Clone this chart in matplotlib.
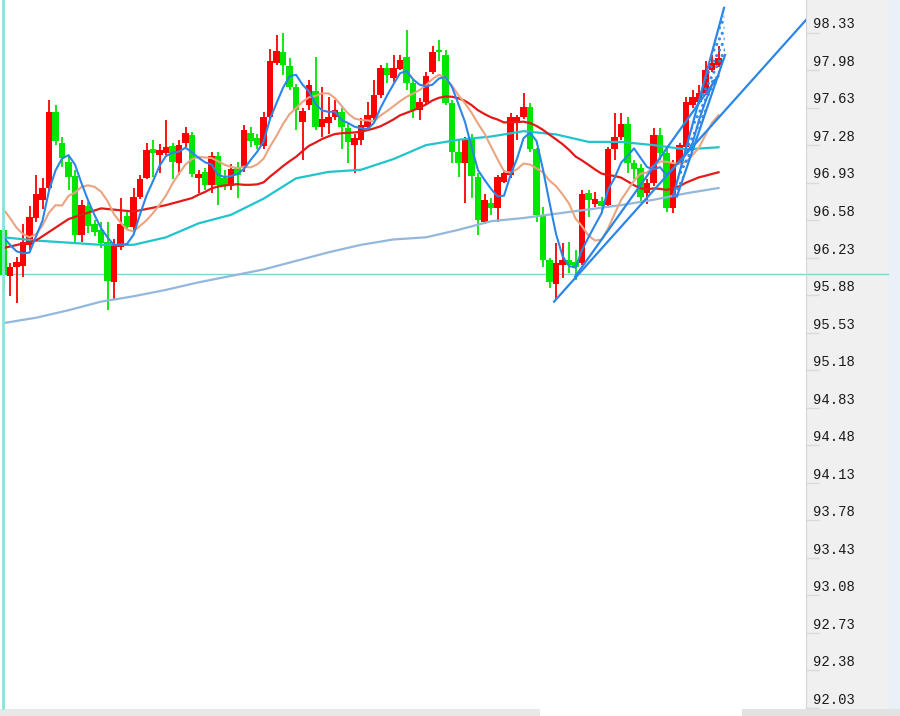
import numpy as np
import pandas as pd
import matplotlib
matplotlib.use("Agg")
import matplotlib.pyplot as plt
from matplotlib.patches import Rectangle, Polygon
from matplotlib.lines import Line2D

# ---------------- data ----------------
open_ = [96.40, 95.97, 96.05, 96.06, 96.26, 96.51, 96.68, 96.79, 97.50, 97.21,
         97.03, 96.90, 96.35, 96.62, 96.45, 96.40, 96.29, 95.91, 96.24, 96.53,
         96.43, 96.71, 96.88, 97.15, 97.10, 97.12, 97.18, 97.02, 97.21, 97.28,
         96.88, 96.94, 96.82, 97.09, 96.88, 96.81, 96.98, 96.98, 97.30, 97.26,
         97.18, 97.45, 97.96, 98.06, 97.93, 97.73, 97.41, 97.56, 97.69, 97.36,
         97.40, 97.45, 97.50, 97.35, 97.19, 97.24, 97.36, 97.44, 97.66, 97.91,
         97.82, 97.90, 98.01, 97.77, 97.52, 97.59, 97.87, 98.07, 98.03, 97.58,
         97.13, 97.02, 97.26, 96.89, 96.47, 96.65, 96.60, 96.85, 96.91, 97.41,
         97.45, 97.55, 97.15, 96.54, 96.12, 95.89, 96.07, 96.12, 96.10, 96.09,
         96.74, 96.64, 96.67, 96.63, 97.15, 97.27, 97.39, 97.02, 96.98, 96.74,
         96.84, 97.28, 97.12, 96.60, 97.02, 97.17, 97.56, 97.59, 97.68, 97.89,
         97.94]
high = [96.44, 96.09, 96.15, 96.45, 96.62, 96.91, 96.88, 97.61, 97.56, 97.27,
        97.10, 96.96, 96.68, 96.66, 96.49, 96.47, 96.47, 96.31, 96.70, 96.57,
        96.79, 96.91, 97.21, 97.24, 97.20, 97.42, 97.21, 97.24, 97.36, 97.31,
        96.96, 96.98, 97.13, 97.13, 96.96, 97.01, 97.03, 97.38, 97.36, 97.29,
        97.50, 98.09, 98.22, 98.24, 98.00, 97.76, 97.54, 97.80, 98.01, 97.73,
        97.64, 97.61, 97.54, 97.39, 97.29, 97.44, 97.59, 97.80, 97.94, 97.96,
        98.03, 98.03, 98.26, 97.80, 97.63, 97.87, 98.11, 98.17, 98.08, 97.61,
        97.24, 97.27, 97.29, 96.93, 96.73, 96.70, 96.91, 96.96, 97.49, 97.47,
        97.68, 97.58, 97.16, 96.61, 96.14, 96.28, 96.28, 96.29, 96.21, 96.77,
        96.77, 96.75, 96.71, 97.17, 97.49, 97.49, 97.45, 97.05, 97.01, 96.87,
        97.35, 97.35, 97.15, 97.05, 97.21, 97.64, 97.70, 97.75, 97.97, 98.03,
        98.11]
low = [95.84, 95.78, 95.72, 95.96, 96.21, 96.47, 96.59, 96.77, 97.19, 96.99,
       96.77, 96.27, 96.29, 96.37, 96.34, 96.23, 95.65, 95.75, 96.21, 96.40,
       96.40, 96.69, 96.87, 96.89, 96.93, 97.10, 96.87, 96.91, 97.17, 96.89,
       96.74, 96.77, 96.74, 96.63, 96.77, 96.77, 96.70, 96.94, 97.17, 97.15,
       97.15, 97.42, 97.94, 97.84, 97.70, 97.33, 97.05, 97.52, 97.33, 97.27,
       97.29, 97.42, 97.15, 97.02, 96.93, 97.19, 97.33, 97.42, 97.63, 97.77,
       97.78, 97.89, 97.70, 97.44, 97.42, 97.57, 97.85, 97.97, 97.56, 97.02,
       96.89, 96.65, 96.70, 96.35, 96.45, 96.54, 96.47, 96.84, 96.88, 97.24,
       97.43, 97.13, 96.47, 96.05, 95.86, 95.75, 95.95, 96.00, 95.93, 96.07,
       96.52, 96.61, 96.56, 96.60, 97.05, 97.24, 96.93, 96.87, 96.65, 96.64,
       96.81, 97.05, 96.57, 96.56, 97.01, 97.15, 97.54, 97.57, 97.66, 97.87,
       97.92]
close = [95.98, 96.05, 96.10, 96.29, 96.52, 96.73, 96.79, 97.50, 97.23, 97.07,
         96.89, 96.35, 96.63, 96.44, 96.38, 96.28, 95.92, 96.26, 96.45, 96.43,
         96.71, 96.87, 97.14, 97.12, 97.14, 97.17, 97.03, 97.19, 97.30, 96.92,
         96.92, 96.82, 97.09, 96.82, 96.81, 96.97, 96.91, 97.33, 97.23, 97.19,
         97.45, 97.97, 98.07, 97.94, 97.73, 97.52, 97.51, 97.75, 97.36, 97.43,
         97.45, 97.52, 97.36, 97.22, 97.26, 97.38, 97.47, 97.66, 97.91, 97.84,
         97.91, 97.98, 97.77, 97.52, 97.59, 97.83, 98.06, 98.06, 97.58, 97.13,
         97.02, 97.24, 96.90, 96.49, 96.68, 96.60, 96.89, 96.93, 97.45, 97.45,
         97.55, 97.15, 96.54, 96.12, 95.91, 96.09, 96.12, 96.07, 96.05, 96.73,
         96.68, 96.69, 96.62, 97.15, 97.27, 97.39, 97.02, 96.97, 96.71, 96.84,
         97.28, 97.12, 96.60, 97.02, 97.19, 97.59, 97.64, 97.68, 97.89, 97.96,
         98.00]

# moving averages before enough candles are on screen (read values)
ma5_lead = [96.33, 96.26, 96.20, 96.18]
ma10_lead = [96.59, 96.51, 96.42, 96.36, 96.33, 96.36, 96.44, 96.56, 96.63]
ma30_lead_idx = [0, 5, 10, 15, 20, 25]
ma30_lead = [96.23, 96.30, 96.50, 96.60, 96.57, 96.63]

# longer moving averages sampled every 5 candles
ma_idx = list(range(0, 111, 5))
ma60 = [96.33, 96.30, 96.28, 96.26, 96.26, 96.33, 96.46, 96.54, 96.69, 96.88,
        96.94, 96.96, 97.06, 97.19, 97.24, 97.27, 97.32, 97.29, 97.22, 97.22,
        97.19, 97.15, 97.17]
ma_long = [95.53, 95.58, 95.65, 95.73, 95.78, 95.84, 95.91, 95.97, 96.03, 96.11,
           96.19, 96.26, 96.31, 96.33, 96.40, 96.48, 96.51, 96.55, 96.59, 96.63,
           96.68, 96.74, 96.79]

# drawn objects (trend lines, channel, horizontal level)
trend1_x, trend1_y = [84.7, 123.5], [95.73, 98.36]
trend2_x, trend2_y = [87.9, 109.8], [95.96, 97.82]
chan_up_x, chan_up_y = [103.0, 110.85], [96.71, 98.47]
chan_lo_x, chan_lo_y = [103.6, 111.0], [96.71, 98.03]
level = 95.99

y_ticks = [98.33, 97.98, 97.63, 97.28, 96.93, 96.58, 96.23, 95.88, 95.53, 95.18,
           94.83, 94.48, 94.13, 93.78, 93.43, 93.08, 92.73, 92.38, 92.03]

# ---------------- figure ----------------
W, H = 900, 716
fig = plt.figure(figsize=(W / 100, H / 100), dpi=100)
fig.patch.set_facecolor("white")

fig.patches.append(Rectangle((806 / W, 0), (888 - 806) / W, 1, transform=fig.transFigure,
                             facecolor="#f0f0f0", edgecolor="none", zorder=-3))
fig.patches.append(Rectangle((888 / W, 0), 12 / W, 1, transform=fig.transFigure,
                             facecolor="#eaf0f7", edgecolor="none", zorder=-3))
fig.patches.append(Rectangle((0, 0), 540 / W, 7 / H, transform=fig.transFigure,
                             facecolor="#e8e8e8", edgecolor="none", zorder=-3))
fig.patches.append(Rectangle((742 / W, 0), 158 / W, 7 / H, transform=fig.transFigure,
                             facecolor="#e2e2e2", edgecolor="none", zorder=-3))

ax = fig.add_axes([0, 8 / H, 806 / W, 708 / H])
ax.set_facecolor("white")
ax.set_xlim(-0.54, 123.46)
ax.set_ylim(91.945, 98.5434)

RED = "#ff0000"
GREEN = "#00e600"
o = np.array(open_)
h = np.array(high)
l = np.array(low)
c = np.array(close)
x = np.arange(len(c))
cols = np.where(c >= o, RED, GREEN)

ax.vlines(x, l, h, colors=cols, lw=1.3, zorder=2)
bottom = np.minimum(o, c)
height = np.maximum(np.abs(c - o), 0.015)
ax.bar(x, height, bottom=bottom, width=0.97, color=cols, lw=0, zorder=3)

# moving averages
cs = pd.Series(close)
ma5 = cs.rolling(5).mean().to_numpy()
ma5[:4] = ma5_lead
ma10 = cs.rolling(10).mean().to_numpy()
ma10[:9] = ma10_lead
ma30_calc = cs.rolling(30).mean().to_numpy()
ma30_x = ma30_lead_idx + list(range(29, len(close)))
ma30_y = ma30_lead + list(ma30_calc[29:])

ax.plot(ma_idx, ma_long, color="#93b7dd", lw=1.6, zorder=4)
ax.plot(ma_idx, ma60, color="#20c4cc", lw=1.6, zorder=4)
ax.plot(ma30_x, ma30_y, color="#e31a1a", lw=1.6, zorder=4)
ax.plot(x, ma10, color="#eaa47f", lw=1.5, zorder=4)
ax.plot(x, ma5, color="#2a86e8", lw=1.5, zorder=5)

# horizontal level line (extends into the price panel)
ax.plot([-0.54, 136.0], [level, level], color="#86d2d0", lw=1.0, clip_on=False, zorder=1)

# trend lines
TL = "#2a86e8"
ax.plot(trend1_x, trend1_y, color=TL, lw=1.6, zorder=6)
ax.annotate("", xy=(trend2_x[1], trend2_y[1]), xytext=(trend2_x[0], trend2_y[0]),
            arrowprops=dict(arrowstyle="-|>", color=TL, lw=1.6, shrinkA=0, shrinkB=0,
                            mutation_scale=7), zorder=6)
ax.plot(chan_up_x, chan_up_y, color=TL, lw=1.6, zorder=6)
ax.plot(chan_lo_x, chan_lo_y, color=TL, lw=1.6, zorder=6)
plt.rcParams["hatch.linewidth"] = 1.4
plt.rcParams["hatch.color"] = TL
chan = Polygon([(chan_up_x[0], chan_up_y[0]), (chan_up_x[1], chan_up_y[1]),
                (chan_lo_x[1], chan_lo_y[1]), (chan_lo_x[0], chan_lo_y[0])],
               closed=True, fill=False, hatch="...", edgecolor=TL, lw=0, zorder=6)
ax.add_patch(chan)

# axes styling
ax.set_xticks([])
ax.yaxis.tick_right()
ax.set_yticks(y_ticks)
ax.set_yticklabels([f"{v:.2f}" for v in y_ticks], fontfamily="Liberation Mono",
                   fontsize=10, color="#1a1a1a")
ax.tick_params(axis="y", which="major", length=0, pad=5)
ax.set_yticks([v - 0.09 for v in y_ticks], minor=True)
ax.tick_params(axis="y", which="minor", length=9, width=1, color="#dadada", direction="out")
for s in ["top", "bottom", "left"]:
    ax.spines[s].set_visible(False)
ax.spines["right"].set_color("#d6d6d6")
ax.spines["right"].set_linewidth(0.8)

fig.add_artist(Line2D([2.5 / W, 2.5 / W], [8 / H, 1], transform=fig.transFigure,
                      color="#8fe0dc", lw=2.0))

fig.savefig("out.png", dpi=100)
